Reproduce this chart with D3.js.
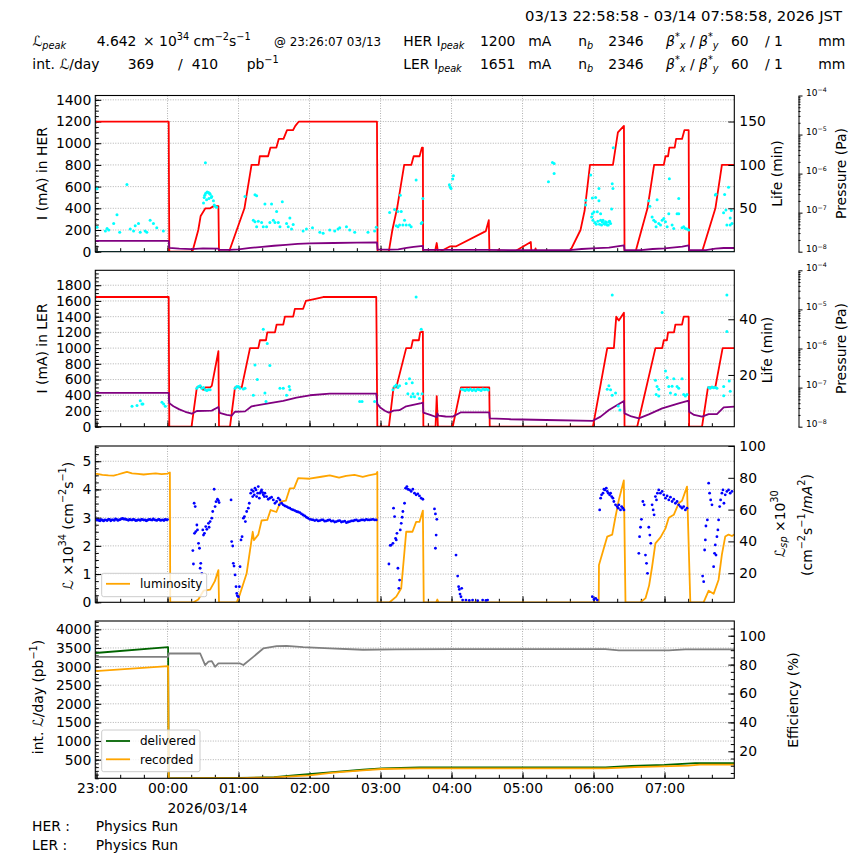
<!DOCTYPE html>
<html><head><meta charset="utf-8">
<script src="https://cdn.jsdelivr.net/npm/d3@7"></script>
<style>body{margin:0;background:#fff}svg{display:block}</style>
</head><body>
<svg id="c" width="864" height="864"></svg>
<script>
// ---------------- DATA (time = minutes after 23:00, 2026/03/13) ----------------
const herCurrent = [[-1.03,1200],[61,1200],[61.5,0],[81,0],[86,200],[88,330],[92,400],[96,400],[99,420],[103,420],[103.5,0],[112,0],[125,400],[131,800],[137,800],[138,880],[145,880],[147,960],[152,960],[154,1040],[158,1040],[161,1120],[166,1120],[168,1160],[171,1200],[237,1200],[237.5,0],[247,0],[250,200],[254,400],[260,800],[266,800],[268,880],[273,880],[275,960],[275.8,960],[276,0],[286,0],[287.5,80],[288.5,0],[290,0],[299,50],[304,50],[329,190],[331.5,290],[332,0],[339,0],[340,20],[341,0],[353,0],[367,90],[367.5,0],[370,0],[371,30],[372,0],[380,0],[381,10],[382,0],[400,0],[409,200],[412.5,380],[417,800],[436.4,800],[440.6,1100],[445.7,1160],[446.2,0],[455.5,0],[465.6,400],[471.2,800],[479.4,800],[480.8,880],[483,880],[484.1,960],[488.6,960],[489.8,1040],[494.8,1040],[496.8,1120],[500.4,1120],[500.8,0],[511.7,0],[523,400],[528.5,800],[539,800]];
const herPurple = [[-1.03,100],[61,100],[61.5,35],[70,28],[80,24],[90,30],[103,28],[103.5,18],[112,17],[120,22],[130,35],[140,45],[150,55],[160,63],[170,72],[180,76],[200,80],[220,83],[237,86],[237.5,22],[248,20],[255,22],[262,35],[268,45],[275.8,53],[276,18],[300,17],[330,16],[360,15],[400,15],[410,25],[419,31],[433,37],[445.7,58],[446.2,15],[460,15],[470,25],[480,31],[495,46],[500.4,58],[500.8,15],[515,15],[523,28],[530,34],[539,34]];
const herDots = [[0.5,580],[0.5,225],[7.5,190],[8.9,215],[10.3,200],[14.5,260],[17.3,340],[19.6,180],[25.7,620],[28.5,210],[31.3,190],[32.7,240],[35.5,260],[36.9,180],[41.1,190],[42.5,180],[45.3,290],[48.1,260],[50.9,220],[56.5,190],
 [90.4,450],[91,500],[91.5,520],[92.3,540],[93.5,550],[94.6,545],[95.5,540],[96,530],[97.4,510],[98.8,470],[99.5,430],[100.2,420],[92,820],[93,480],[95,490],[97,500],[101.5,410],
 [125.5,510],[133.9,525],[135.3,515],[132.5,290],[133.9,275],[135.3,230],[136.7,280],[139.5,270],[140.9,230],[142.3,440],[143.7,230],[146.5,270],[147.9,440],[149.4,290],[150.8,270],[152.2,370],[153.6,270],[155,230],[157,460],[160.6,260],[162,230],[163.4,310],[164.8,210],[166.2,250],[174.6,190],[177.4,210],[182.5,220],[188.7,180],[191.5,170],[197.1,200],[201.3,190],[204.1,210],[205.5,220],[211.2,230],[214,200],[218.2,180],[229.4,180],[235,190],[236.4,225],
 [247.7,362],[251.9,390],[253.3,240],[254.7,370],[254.7,230],[256.1,245],[256.7,520],[257.5,370],[258.9,245],[260.3,290],[261.7,245],[264.5,245],[265.9,230],[270.1,660],[274.4,260],[275.1,270],[275.8,490],
 [298.2,617],[299,595],[299.6,583],[301,670],[301.6,700],
 [381.9,644],[385.3,822],[386.7,813],[386.7,721],
 [413.4,475],[413.4,430],[417.6,706],[419,496],[419,350],[420.4,365],[421.8,500],[423.2,368],[424.6,583],[424.6,470],[426,350],[426,291],[427.4,275],[428.8,261],[430.2,275],[431.6,245],[433,275],[434.4,261],[435.3,393],[435.8,627],[436.4,583],[436.7,958],[418.4,320],[419.5,291],[421.2,270],[422.3,252],[423.7,280],[425.1,252],[426.8,245],[428,291],[429.6,252],[430.8,270],[432.5,245],[433.6,280],
 [466.7,470],[467.6,420],[469.5,320],[470.9,290],[472.3,275],[472.9,230],[473.7,478],[475.1,260],[476.6,245],[478,290],[479.4,305],[480.8,275],[482.2,230],[483.6,350],[484.1,672],[486.4,245],[487.8,215],[490.6,350],[492,490],[492,350],[494.8,220],[496.2,230],[497.6,215],[499,210],[500.4,200],
 [522.9,522],[523.5,530],[529.9,360],[530.8,527],[531.9,385],[532.7,245],[534.1,595],[535.5,245],[535.5,310],[537,260],[536.4,380]];

const lerCurrent = [[-1.03,1650],[61,1650],[61.5,0],[80.3,0],[84.8,500],[88,510],[90,470],[92,500],[96,500],[97.4,520],[103,960],[103.5,0],[112.8,0],[117,500],[122.7,500],[129.7,1000],[136.7,1000],[138.1,1100],[143.2,1100],[144.3,1200],[150.8,1200],[152.2,1300],[157.8,1300],[159.2,1400],[166.2,1400],[167.6,1500],[174.6,1500],[176.9,1600],[183,1620],[191.5,1650],[236.4,1650],[237.3,0],[247.1,0],[251,500],[253.3,500],[261.7,1000],[265.9,1000],[267.3,1100],[272.4,1100],[273.5,1200],[275.8,1210],[276.2,0],[286.5,0],[287.5,390],[288.5,0],[301,0],[308,500],[331.9,500],[332.3,0],[419.5,0],[431.6,1000],[437.2,1000],[439.2,1400],[441.4,1350],[445.7,1450],[446.2,0],[456.9,0],[472.3,1000],[478,1000],[479.4,1100],[482,1100],[483,1200],[488,1200],[489.2,1300],[494.8,1300],[496.2,1400],[500.4,1400],[500.8,0],[511.7,0],[516.7,500],[522.9,500],[529.1,1000],[539,1000]];
const lerPurple = [[-1.03,430],[61,430],[61.5,300],[65,260],[70,220],[75,190],[80.5,165],[84.8,200],[97.4,205],[103,250],[104,175],[110,150],[114.2,140],[117,190],[125.5,195],[131.1,260],[146.5,300],[157.8,330],[169,370],[180.3,400],[197.1,420],[236.4,420],[237.3,290],[240,240],[244,200],[247.1,180],[251,205],[256,210],[261.7,260],[274.4,300],[275.8,305],[276.2,180],[282,150],[287.6,120],[288,170],[289,140],[295,130],[301,128],[308,183],[331.9,183],[332.3,107],[350,95],[380,85],[419,73],[426,128],[433,212],[445.7,327],[446.2,170],[452,130],[458.3,107],[466.7,157],[478,234],[492,297],[500.4,331],[500.8,191],[505,150],[511.7,128],[517.3,161],[524.3,161],[530,246],[539,255]];
const lerDots = [[30,260],[34.2,270],[37,330],[38.4,290],[39.2,290],[55.3,310],[56.7,290],[58.1,260],[84.8,490],[86.2,510],[87.6,520],[89,490],[90.4,500],[91.8,470],[93.2,460],[94.6,470],[96,470],[117.1,490],[118.5,510],[119.9,510],[121.3,490],[124.1,480],[125.5,490],[132.5,400],[133.9,785],[135.9,600],[140.9,1240],[142.3,430],[143.2,320],[144.3,1060],[146.5,780],[155,490],[157.8,490],[160.6,400],[162.8,510],[163.4,470],[222.4,320],[224.4,320],[235,320],
 [250.5,470],[251.9,510],[253.3,530],[254.7,500],[256.1,520],[261.7,550],[263.1,420],[264.5,610],[265.9,380],[266.8,560],[267.4,420],[268.7,380],[270.1,1650],[271.5,420],[272.9,360],[274.4,1240],[275.2,420],
 [308.5,478],[310,470],[311.5,460],[313,475],[314.5,465],[316,480],[317.5,462],[319,472],[320.5,458],[322,478],[323.5,470],[325,462],[326.5,480],[328,470],[329.5,476],[331,468],
 [435.8,1676],[433,520],[431.6,475],[434.4,470],[435.8,400],[438.6,430],[440.9,263],[442.3,212],
 [472.3,590],[473.7,510],[472.9,410],[475.1,390],[478,1453],[480.8,710],[482.2,625],[483.6,510],[485,430],[487.8,610],[486.4,515],[489.2,410],[490.6,510],[492,490],[494.8,610],[496.2,410],[497.6,390],[499,410],[475.1,475],
 [517.3,500],[518.5,490],[520.1,505],[521.5,495],[522.9,500],[524.3,490],[530,510],[532.7,1676],[532.7,1210],[534.7,580],[535.5,450],[530,395]];

const luminosity = [[-1.03,4.55],[0.5,4.55],[5,4.52],[10,4.5],[14.5,4.49],[18,4.53],[22,4.58],[25.7,4.62],[30,4.57],[35,4.55],[39.8,4.53],[45,4.55],[50,4.57],[55,4.54],[60,4.56],[62,4.6],[62.3,0],[82,0],[86,0.1],[90.4,0.41],[96,0.45],[100,0.75],[103,1.14],[103.5,0],[118.5,0],[121.3,0.3],[126.9,1.03],[132,2.5],[133,2.2],[136.7,2.4],[139.5,2.9],[144.3,2.92],[147.1,3.27],[152,3.2],[155.5,3.57],[160,3.6],[163.4,4.04],[167,4.05],[170.4,4.4],[180,4.38],[190,4.45],[197.1,4.5],[205,4.42],[211,4.48],[218,4.52],[225,4.45],[230,4.5],[236.4,4.55],[237.3,4.62],[237.5,0],[247.7,0],[253.3,0.2],[257.5,0.5],[261.7,2.5],[267,2.5],[270.1,2.85],[272.9,2.85],[275.8,3.25],[276.5,0],[287,0],[288,0.1],[289,0],[424.4,0],[424.6,1.32],[431.6,2.33],[435.8,2.4],[438.6,3.04],[441.4,3.63],[445.6,4.32],[447,0],[459.7,0],[464,0.15],[467,0.6],[469.5,1.26],[472.3,2.09],[476.6,2.3],[480.8,2.62],[483.6,3.0],[487.8,3.1],[492,3.51],[494.8,3.6],[499,4.1],[501.8,0],[513,0],[517.3,0.41],[521.5,0.3],[525.7,0.8],[528.5,1.7],[531.3,2.33],[534.1,2.4],[537,2.35],[539,2.4]];
const specificLumi = [[0,53.6],[1,53.4],[2,53.2],[3,53.0],[4,53.7],[5,53.3],[6,52.9],[7,53.6],[8,53.4],[9,53.1],[10,53.9],[11,53.8],[12,53.0],[13,53.5],[14,53.6],[15,53.2],[16,54.1],[17,53.9],[18,53.2],[19,53.5],[20,53.7],[21,54.2],[22,54.4],[23,54.0],[24,54.1],[25,53.8],[26,53.6],[27,53.3],[28,53.9],[29,53.6],[30,53.4],[31,53.8],[32,53.7],[33,53.1],[34,53.2],[35,53.5],[36,53.6],[37,53.2],[38,53.9],[39,53.7],[40,53.4],[41,53.5],[42,53.0],[43,53.3],[44,53.7],[45,53.8],[46,53.6],[47,53.4],[48,54.1],[49,53.6],[50,53.4],[51,53.2],[52,53.7],[53,53.8],[54,53.2],[55,53.4],[56,53.6],[57,53.1],[58,53.9],[59,53.5],[60,53.7],
 [81.4,34.2],[81.9,25.8],[82.5,64.0],[83.4,61.9],[82.8,45.1],[83.9,46.2],[84.8,50.3],[85.3,47.2],[86.2,38.8],[87.0,35.7],[87.6,23.1],[88.1,26.2],[89.0,19.9],[89.8,47.2],[90.4,44.0],[91.2,45.1],[92.3,49.3],[93.2,47.6],[94.6,51.4],[95.1,48.9],[96.0,52.5],[97.4,54.6],[98.2,58.8],[99.4,72.8],[100.2,61.9],[101.0,65.0],[102.2,66.5],[103.0,65.7],[103.6,64.4],
 [113.7,66.1],[114.2,39.9],[115.1,37.1],[115.6,26.2],[116.2,24.5],[117.1,18.9],[117.9,11.5],[118.5,7.3],[119.0,5.8],[119.9,5.2],[120.7,11.5],[121.3,24.1],[122.1,40.9],[123.0,43.0],[124.1,54.6],[125.0,55.6],[125.8,52.5],[126.9,58.8],[128.3,60.9],[129.1,64.0],[130.3,70.3],[131.1,72.4],[132.0,68.2],[132.5,71.4],[133.3,69.3],[133.9,73.5],[134.8,72.4],[135.3,68.2],[136.2,70.3],[136.7,74.5],[137.6,67.2],[138.1,70.3],[139.0,71.4],[139.5,72.4],[140.4,70.7],[140.9,69.3],[141.8,68.2],[142.3,70.3],[143.7,68.2],[145.1,66.5],[146.5,67.2],[147.9,67.8],[149.4,66.1],[150.8,64.0],[152.2,65.1],[153.6,67.2],[154.4,63.0],[155.0,66.1],[156.4,64.0],[157.8,63.0],[159.2,62.3],[160.6,61.9],[162.0,61.3],[163.4,60.9],[164.8,60.2],[166.2,59.8],[167.6,59.4],[169.0,58.8],[170.4,58.5],[171.8,58.1],[173.2,57.3],[174.6,56.6],[176.0,56.0],[177.4,55.2],[178.8,54.6],[180.3,53.9],[181.7,53.7],[183.1,53.5],[184.5,53.1],[185.9,53.5],[187.3,52.9],[188.7,53.1],[190.1,53.5],[191.5,53.5],[192.9,52.7],[194.3,52.9],[195.7,53.3],[197.1,53.5],[198.5,52.7],[199.9,52.9],[201.3,52.2],[202.7,52.5],[204.1,52.9],[205.5,53.1],[206.9,52.2],[208.3,52.5],[209.8,52.7],[211.2,51.8],[212.6,52.2],[214.0,52.5],[215.4,52.9],[216.8,52.9],[218.2,53.3],[219.6,53.5],[221.0,52.9],[222.4,53.1],[223.8,53.5],[225.2,53.5],[226.6,53.3],[228.0,53.9],[229.4,53.5],[230.8,53.5],[232.2,53.7],[233.6,53.9],[235.0,53.5],[236.4,53.5],
 [247.1,25.8],[248.2,37.5],[249.1,37.7],[250.5,38.8],[251.0,60.9],[251.9,55.6],[252.7,41.9],[253.3,40.9],[253.9,45.1],[254.7,23.1],[255.5,10.5],[256.1,15.7],[256.7,47.2],[257.5,51.4],[258.3,55.2],[258.9,58.8],[260.3,64.0],[261.2,73.5],[262.3,74.5],[263.1,72.8],[264.5,72.4],[265.9,71.4],[267.3,72.8],[268.7,70.3],[270.1,69.3],[271.5,69.9],[272.9,68.6],[274.4,67.2],[275.8,66.5],
 [285.6,60.4],[286.4,57.3],[287.6,53.9],[287.0,44.0],[286.4,35.7],
 [303.8,31.4],[305.2,18.2],[306.0,11.5],[306.6,9.8],[307.2,6.9],[308.0,5.2],[308.6,10.5],[309.4,3.1],[312.2,3.1],[315.0,2.9],[317.8,3.1],[322.1,2.7],[326.3,3.1],[329.1,2.9],[330.5,3.1],
 [419.0,5.2],[420.4,3.5],[421.8,4.2],[423.2,3.1],
 [425.2,59.8],[426.0,67.2],[426.8,69.3],[428.0,70.3],[428.8,72.8],[429.6,72.4],[430.8,73.5],[431.6,71.4],[432.5,70.3],[433.6,69.3],[434.4,70.3],[435.3,68.2],[436.4,67.2],[437.2,65.1],[438.6,63.0],[440.0,61.9],[440.9,60.9],[441.4,63.0],[442.8,59.8],[443.7,61.9],[444.8,60.9],[445.7,59.8],
 [458.3,32.5],[458.9,43.0],[459.7,48.9],[460.5,53.9],[461.7,65.1],[462.8,63.0],[463.9,31.4],[464.8,26.2],[465.6,19.9],[466.7,48.9],[467.6,44.0],[468.4,38.8],[469.5,63.0],[470.4,59.8],[471.2,56.7],[472.3,68.2],[473.2,66.1],[474.0,70.3],[475.1,72.4],[476.5,70.3],[478.0,71.4],[479.4,69.3],[480.8,67.2],[482.2,68.6],[483.6,66.1],[485.0,67.8],[486.4,65.1],[487.8,66.5],[489.2,64.0],[490.6,65.1],[492.0,63.0],[493.4,61.9],[494.8,60.9],[496.2,61.9],[497.6,59.8],[499.0,60.9],
 [512.2,18.2],[513.1,14.7],[513.9,34.6],[514.5,40.9],[515.0,49.7],[516.2,53.5],[517.3,76.6],[518.1,70.3],[519.0,66.1],[520.1,63.0],[521.5,24.1],[522.3,32.5],[522.9,37.8],[523.5,31.4],[524.3,43.0],[525.1,47.2],[525.7,53.5],[526.6,61.9],[527.4,66.1],[528.5,70.3],[529.4,72.4],[530.2,64.0],[531.3,69.3],[532.7,71.4],[534.1,72.4],[535.5,70.3],[537.0,71.4]];

const delivered = [[-1.03,3365],[60.5,3520],[61,0],[90,2],[120,8],[150,30],[169,86],[197,158],[225,230],[241,266],[273,290],[300,292],[430,292],[452,330],[480,360],[506,410],[539,410]];
const recorded = [[-1.03,2880],[60.5,3010],[61,0],[90,2],[120,6],[150,25],[180,80],[200,150],[225,215],[241,250],[273,265],[300,268],[430,268],[455,300],[500,340],[510,365],[539,369]];
const efficiency = [[-1.03,85.4],[60.5,85.4],[61,87.7],[87.6,87.7],[91.8,79.7],[94.6,82],[97.4,82.4],[100.2,78.5],[103,80.8],[121.3,80.8],[124.1,79.7],[132.5,85.4],[140.9,91.2],[152.2,92.8],[160.6,93],[174.6,92.1],[197.1,91.2],[225.2,90.3],[253.3,90.5],[300,90.7],[430,90.7],[441.4,89.8],[483.6,89.8],[497.6,90.5],[539,90.5]];

const herTicks = [0,200,400,600,800,1000,1200,1400];
const lerTicks = [0,200,400,600,800,1000,1200,1400,1600,1800];
const lumiTicks = [0,1,2,3,4,5];
const intTicks = [500,1000,1500,2000,2500,3000,3500,4000];
const lifeTicks1 = [50,100,150];
const lifeTicks2 = [20,40];
const spTicks = [20,40,60,80,100];
const effTicks = [20,40,60,80,100];
const pressureExp = [-8,-7,-6,-5,-4];

// ---------------- SETUP ----------------
const FONT = "'DejaVu Sans', sans-serif";
const FS = 13.9;
const LW = 1.8;
const GRID = '#a8a8a8';
const svg = d3.select('#c').attr('font-family', FONT);
const T0 = Date.UTC(2026, 2, 13, 23, 0, 0);
const tm = m => new Date(T0 + m * 60000);
const X0 = 95.3, X1 = 734.3;
const x = d3.scaleUtc().domain([tm(-62/60), tm(538 + 58/60)]).range([X0, X1]);
const P = [{top:95.5,bot:251.7},{top:270.3,bot:426.7},{top:446,bot:602.3},{top:621,bot:778.3}];

const y1 = d3.scaleLinear().domain([0,1440]).range([P[0].bot,P[0].top]);
const y1r = d3.scaleLinear().domain([0,180]).range([P[0].bot,P[0].top]);
const y2 = d3.scaleLinear().domain([0,1990]).range([P[1].bot,P[1].top]);
const y2r = d3.scaleLinear().domain([1.4,57.6]).range([P[1].bot,P[1].top]);
const y3 = d3.scaleLinear().domain([0,5.54]).range([P[2].bot,P[2].top]);
const y3r = d3.scaleLinear().domain([1.7,100]).range([P[2].bot,P[2].top]);
const y4 = d3.scaleLinear().domain([0,4224]).range([P[3].bot,P[3].top]);
const y4r = d3.scaleLinear().domain([1.3,110.2]).range([P[3].bot,P[3].top]);

function rich(sel, parts, fs) {
  let off = 0;
  parts.forEach(p => {
    const o = typeof p === 'string' ? {t:p} : p;
    const ts = sel.append('tspan').text(o.t);
    const target = o.k === 1 ? -0.4*fs : o.k === 2 ? 0.25*fs : 0;
    ts.attr('dy', target - off); off = target;
    if (o.k) ts.attr('font-size', fs*0.7);
    if (o.it) ts.attr('font-style','italic');
  });
  return sel;
}
function txt(x0, y0, fs, anchor) {
  return svg.append('text').attr('x',x0).attr('y',y0).attr('font-size',fs).attr('text-anchor',anchor||'start').attr('fill','#000');
}
function vlabel(cx, cy, parts, fs) {
  const t = svg.append('text').attr('transform',`translate(${cx},${cy}) rotate(-90)`).attr('text-anchor','middle').attr('dominant-baseline','central').attr('font-size',fs||FS);
  rich(t, parts, fs||FS);
}
function styleAxis(g){ g.attr('font-family',FONT).attr('font-size',FS); g.select('.domain').remove(); }

P.forEach((p,i) => {
  svg.append('clipPath').attr('id','clip'+i).append('rect').attr('x',X0).attr('y',p.top).attr('width',X1-X0).attr('height',p.bot-p.top);
});

function panelBase(i, yScale, majors, minorStep, fmt, gridVals) {
  const p = P[i];
  const g = svg.append('g');
  const hours = x.ticks(d3.utcHour.every(1));
  g.selectAll('.vg').data(hours).join('line').attr('x1',d=>x(d)).attr('x2',d=>x(d)).attr('y1',p.top).attr('y2',p.bot)
    .attr('stroke',GRID).attr('stroke-width',0.9).attr('stroke-dasharray','1,1.5');
  g.selectAll('.hg').data(gridVals).join('line').attr('x1',X0).attr('x2',X1).attr('y1',d=>yScale(d)).attr('y2',d=>yScale(d))
    .attr('stroke',GRID).attr('stroke-width',0.9).attr('stroke-dasharray','1,1.5');
  const dom = yScale.domain();
  const minors = d3.range(0, dom[1], minorStep);
  svg.append('g').attr('transform',`translate(${X0},0)`).call(d3.axisLeft(yScale).tickValues(minors).tickSizeInner(-3.5).tickSizeOuter(0).tickFormat('')).call(styleAxis);
  svg.append('g').attr('transform',`translate(${X0},0)`).call(d3.axisLeft(yScale).tickValues(majors).tickSizeInner(-6).tickSizeOuter(0).tickPadding(4).tickFormat(fmt)).call(styleAxis);
  svg.append('g').attr('transform',`translate(0,${p.bot})`).call(d3.axisBottom(x).tickValues(x.ticks(d3.utcMinute.every(20))).tickSizeInner(-3.5).tickSizeOuter(0).tickFormat('')).call(styleAxis);
  svg.append('g').attr('transform',`translate(0,${p.bot})`).call(d3.axisBottom(x).tickValues(hours).tickSizeInner(-6).tickSizeOuter(0).tickPadding(5).tickFormat(i===3 ? d3.utcFormat('%H:%M') : '')).call(styleAxis);
}
function frame(i){ const p=P[i]; svg.append('rect').attr('x',X0).attr('y',p.top).attr('width',X1-X0).attr('height',p.bot-p.top).attr('fill','none').attr('stroke','#000').attr('stroke-width',1.1); }
function rightAxis(yScale, majors, minors, pad) {
  if (minors) svg.append('g').attr('transform',`translate(${X1},0)`).call(d3.axisRight(yScale).tickValues(minors).tickSizeInner(-3.5).tickSizeOuter(0).tickFormat('')).call(styleAxis);
  svg.append('g').attr('transform',`translate(${X1},0)`).call(d3.axisRight(yScale).tickValues(majors).tickSizeInner(-6).tickSizeOuter(0).tickPadding(pad||5).tickFormat(d3.format('d'))).call(styleAxis);
}
function pressureAxis(i) {
  const p = P[i];
  const yp = d3.scaleLog().domain([1e-8,1e-4]).range([p.bot,p.top]);
  const minor = [];
  for (let e=-8; e<-4; e++) for (let k=2; k<10; k++) minor.push(k*Math.pow(10,e));
  svg.append('g').attr('transform',`translate(798.5,0)`).call(d3.axisRight(yp).tickValues(minor).tickSizeInner(2).tickSizeOuter(0).tickFormat('')).call(styleAxis);
  const g = svg.append('g').attr('transform',`translate(798.5,0)`).call(d3.axisRight(yp).tickValues(pressureExp.map(e=>Math.pow(10,e))).tickSizeInner(4).tickSizeOuter(0).tickPadding(3.5).tickFormat(''));
  g.attr('font-family',FONT).attr('font-size',9);
  g.select('.domain').attr('stroke','#000');
  g.selectAll('.tick').each(function(d){
    const e = Math.round(Math.log10(d));
    const t = d3.select(this).select('text').attr('dy','0.32em');
    rich(t, ['10', {t:'\u2212'+Math.abs(e), k:1}], 9);
  });
}
const line = (ys) => d3.line().x(d=>x(tm(d[0]))).y(d=>ys(d[1]));
function drawLine(i, data, ys, color, w) {
  svg.append('path').datum(data).attr('clip-path',`url(#clip${i})`).attr('d', line(ys)).attr('fill','none').attr('stroke',color).attr('stroke-width',w||LW).attr('stroke-linejoin','round');
}
function drawDots(i, data, ys, color, r) {
  svg.append('g').attr('clip-path',`url(#clip${i})`).selectAll('circle').data(data).join('circle')
    .attr('cx',d=>x(tm(d[0]))).attr('cy',d=>ys(d[1])).attr('r',r||1.5).attr('fill',color);
}

// ---------------- PANEL 1: HER ----------------
panelBase(0, y1, herTicks, 50, d3.format('d'), herTicks.slice(1));
drawLine(0, herCurrent, y1, '#ff0000');
drawLine(0, herPurple, y1, '#800080');
drawDots(0, herDots, y1, '#00ffff', 1.5);
drawLine(0, [[-1.03,0],[539,0]], y1, '#00ffff', 1.6);
frame(0);
rightAxis(y1r, lifeTicks1, null, 5);
pressureAxis(0);
vlabel(41.7, 173.5, ['I (mA) in HER']);
vlabel(776.5, 173.5, ['Life (min)']);
vlabel(841, 173.5, ['Pressure (Pa)']);

// ---------------- PANEL 2: LER ----------------
panelBase(1, y2, lerTicks, 50, d3.format('d'), lerTicks.slice(1));
drawLine(1, lerCurrent, y2, '#ff0000');
drawLine(1, lerPurple, y2, '#800080');
drawDots(1, lerDots, y2, '#00ffff', 1.5);
frame(1);
rightAxis(y2r, lifeTicks2, null, 5);
pressureAxis(1);
vlabel(41.7, 348.5, ['I (mA) in LER']);
vlabel(767, 350, ['Life (min)']);
vlabel(841, 348.5, ['Pressure (Pa)']);

// ---------------- PANEL 3: luminosity ----------------
panelBase(2, y3, lumiTicks, 0.25, d3.format('d'), lumiTicks.slice(1));
drawLine(2, luminosity, y3, '#ffa500');
drawDots(2, specificLumi, y3r, '#0000ff', 1.4);
frame(2);
rightAxis(y3r, spTicks, null, 5);
vlabel(68, 526, ['\u2112 \u00d710', {t:'34',k:1}, ' (cm', {t:'\u22122',k:1}, 's', {t:'\u22121',k:1}, ')']);
vlabel(780, 524, ['\u2112', {t:'sp',k:2,it:true}, ' \u00d710', {t:'30',k:1}]);
vlabel(806.5, 525, ['(cm', {t:'\u22122',k:1}, 's', {t:'\u22121',k:1}, '/', {t:'mA',it:true}, {t:'2',k:1}, ')']);
svg.append('rect').attr('x',101.7).attr('y',573.3).attr('width',105).attr('height',23.4).attr('rx',2).attr('fill','#fff').attr('fill-opacity',0.8).attr('stroke','#cccccc').attr('stroke-width',1);
svg.append('line').attr('x1',106).attr('x2',130).attr('y1',583.8).attr('y2',583.8).attr('stroke','#ffa500').attr('stroke-width',LW);
txt(140, 588, 12).text('luminosity');

// ---------------- PANEL 4: integrated ----------------
panelBase(3, y4, intTicks, 100, d3.format('d'), intTicks);
drawLine(3, delivered, y4, '#006400');
drawLine(3, recorded, y4, '#ffa500');
drawLine(3, efficiency, y4r, '#808080');
frame(3);
rightAxis(y4r, effTicks, d3.range(5,110,5), 5);
vlabel(38.3, 697, ['int. \u2112/day (pb', {t:'\u22121',k:1}, ')']);
vlabel(793.3, 700, ['Efficiency (%)']);
svg.append('rect').attr('x',101.7).attr('y',730).attr('width',98.3).attr('height',41.7).attr('rx',2).attr('fill','#fff').attr('fill-opacity',0.8).attr('stroke','#cccccc').attr('stroke-width',1);
svg.append('line').attr('x1',106).attr('x2',130).attr('y1',741).attr('y2',741).attr('stroke','#006400').attr('stroke-width',LW);
svg.append('line').attr('x1',106).attr('x2',130).attr('y1',759.3).attr('y2',759.3).attr('stroke','#ffa500').attr('stroke-width',LW);
txt(140, 745.3, 12).text('delivered');
txt(140, 763.6, 12).text('recorded');

txt(167.5, 812.5, FS).text('2026/03/14');
txt(32, 830.5, FS).text('HER :');
txt(95.7, 830.5, FS).text('Physics Run');
txt(32, 850, FS).text('LER :');
txt(95.7, 850, FS).text('Physics Run');

// ---------------- HEADER ----------------
txt(842, 20.7, 14.8, 'end').text('03/13 22:58:58 - 03/14 07:58:58, 2026 JST');
rich(txt(32.3, 45.5, FS), ['\u2112', {t:'peak',k:2,it:true}], FS);
txt(96.7, 45.5, FS).text('4.642');
rich(txt(143, 45.5, FS), ['\u00d7 10', {t:'34',k:1}, ' cm', {t:'\u22122',k:1}, 's', {t:'\u22121',k:1}], FS);
txt(274, 45.5, 11.9).text('@ 23:26:07 03/13');
rich(txt(32.3, 68.5, FS), ['int. \u2112/day'], FS);
txt(127.7, 68.5, FS).text('369');
txt(178, 68.5, FS).text('/');
txt(191.7, 68.5, FS).text('410');
rich(txt(246.7, 68.5, FS), ['pb', {t:'\u22121',k:1}], FS);
[['HER','1200',45.5],['LER','1651',68.5]].forEach(([ring, cur, yy]) => {
  rich(txt(403.3, yy, FS), [ring+' I', {t:'peak',k:2,it:true}], FS);
  txt(480, yy, FS).text(cur);
  txt(528.3, yy, FS).text('mA');
  rich(txt(578.3, yy, FS), ['n', {t:'b',k:2,it:true}], FS);
  txt(608.3, yy, FS).text('2346');
  rich(txt(666, yy, FS), [{t:'\u03b2',it:true}, {t:'*',k:1}, {t:'x',k:2,it:true}, ' / ', {t:'\u03b2',it:true}, {t:'*',k:1}, {t:'y',k:2,it:true}], FS);
  txt(731, yy, FS).text('60');
  txt(765, yy, FS).text('/ 1');
  txt(818.3, yy, FS).text('mm');
});
</script>
</body></html>
